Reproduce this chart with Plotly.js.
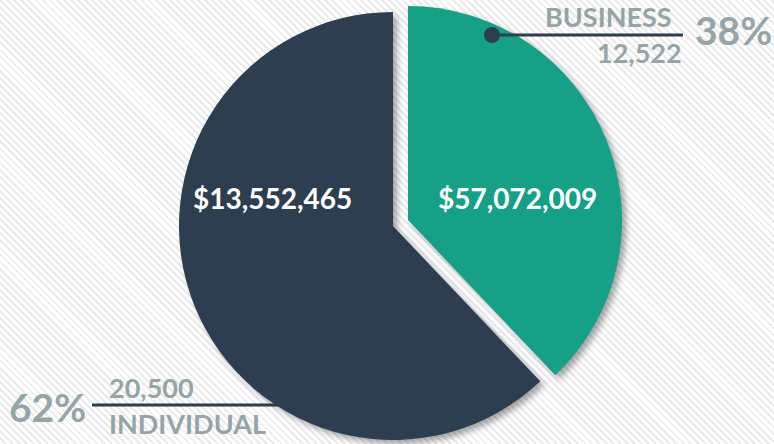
<!DOCTYPE html>
<html><head><meta charset="utf-8">
<script src="https://cdn.plot.ly/plotly-3.0.1.min.js"></script>
<style>
html,body{margin:0;padding:0;}
body{width:774px;height:444px;overflow:hidden;
background:#fff repeating-linear-gradient(45deg,#ffffff 0px,#ffffff 3px,#ebebeb 3px,#ebebeb 5px);}
#chart{width:774px;height:444px;}
.slice path.surface{filter:drop-shadow(4px 4px 3px rgba(0,0,0,0.35));}
</style></head>
<body><div id="chart"></div>
<script>
const categories = ['BUSINESS', 'INDIVIDUAL'];
const counts = [12522, 20500];
const amounts = ['$57,072,009', '$13,552,465'];
const percents = ['38%', '62%'];
const colors = ['#16a085', '#2c3e50'];
const gray = '#95a5a6';
const font = 'Lato, "Open Sans", sans-serif';

const W = 774, H = 444;
const px = x => x / W, py = y => 1 - y / H;
const R = 214;
function dom(cx, cy) {
  return {x: [px(cx - R), px(cx + R)], y: [py(cy + R), py(cy - R)]};
}
const base = {type: 'pie', labels: categories, values: counts, sort: false,
  direction: 'clockwise', rotation: 0, textinfo: 'none', hoverinfo: 'skip',
  marker: {line: {width: 0}}, showlegend: false};
const traces = [
  Object.assign({}, base, {domain: dom(393, 226),
    marker: {colors: ['rgba(0,0,0,0)', colors[1]], line: {width: 0}}}),
  Object.assign({}, base, {domain: dom(408, 220),
    marker: {colors: [colors[0], 'rgba(0,0,0,0)'], line: {width: 0}}})
];
const ann = (text, x, y, size, anchor, color) => ({text, x: px(x), y: py(y),
  xref: 'paper', yref: 'paper', showarrow: false, xanchor: anchor, yanchor: 'middle',
  font: {family: font, size, color, weight: 'bold'}});
const annotations = [
  ann(amounts[1], 272, 198, 28, 'center', '#ffffff'),
  ann(amounts[0], 517, 198, 28, 'center', '#ffffff'),
  ann(categories[0], 674, 17, 27, 'right', gray),
  ann(counts[0].toLocaleString('en-US'), 684, 52, 27, 'right', gray),
  ann(percents[0], 733, 30, 39, 'center', gray),
  ann(counts[1].toLocaleString('en-US'), 107, 387, 27, 'left', gray),
  ann(categories[1], 107, 423, 27, 'left', gray),
  ann(percents[1], 47, 407, 39, 'center', gray)
];
const shapes = [
  {type: 'line', xref: 'paper', yref: 'paper', x0: px(492), x1: px(683), y0: py(35), y1: py(35),
    line: {color: colors[1], width: 3}},
  {type: 'circle', xref: 'paper', yref: 'paper', x0: px(484), x1: px(500), y0: py(43), y1: py(27),
    fillcolor: colors[1], line: {width: 0}},
  {type: 'line', xref: 'paper', yref: 'paper', x0: px(92), x1: px(285), y0: py(405), y1: py(405),
    line: {color: colors[1], width: 3}, layer: 'below'}
];
Plotly.newPlot('chart', traces, {
  width: W, height: H, margin: {l: 0, r: 0, t: 0, b: 0},
  paper_bgcolor: 'rgba(0,0,0,0)', plot_bgcolor: 'rgba(0,0,0,0)',
  annotations, shapes
}, {staticPlot: true});
</script></body></html>
